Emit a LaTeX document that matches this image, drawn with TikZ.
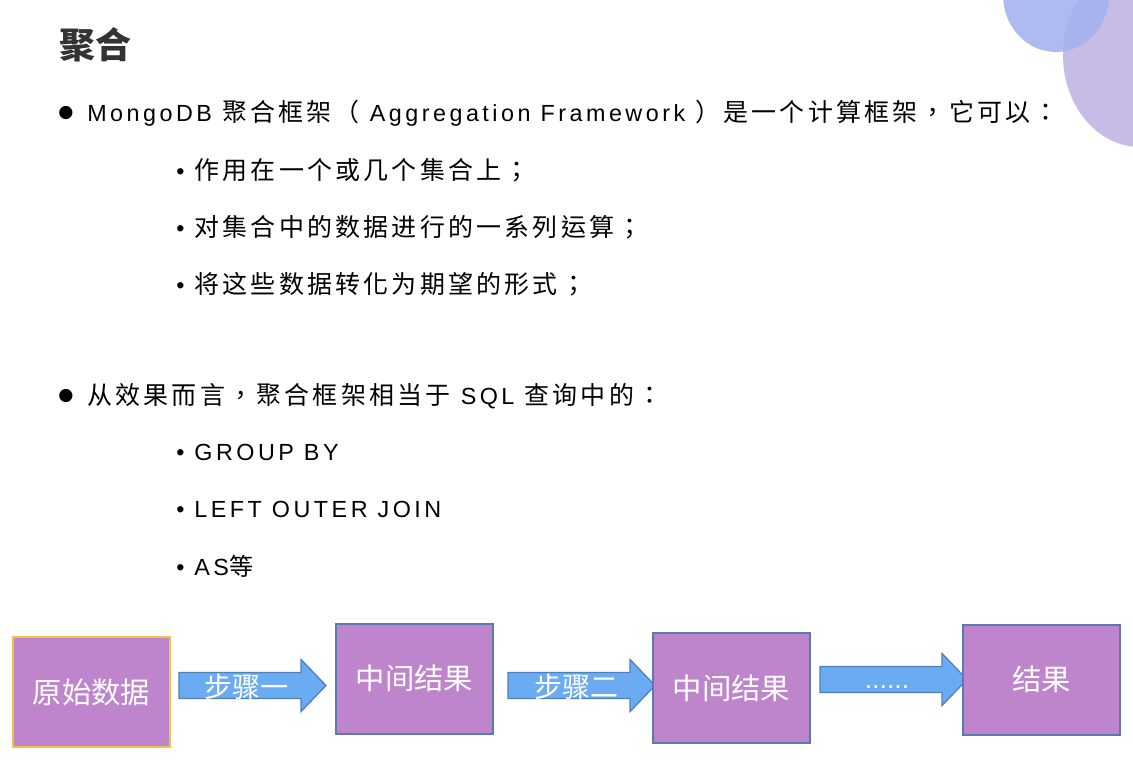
\documentclass[tikz,border=0pt]{standalone}
\usepackage{fontspec}
\setmainfont{Liberation Sans}[LetterSpace=15]
\newfontfamily\cjk{Noto Sans CJK TC}[LetterSpace=13, Scale=1.07]
\newfontfamily\cjkplain{Noto Sans CJK SC}
\newfontfamily\symb{DejaVu Sans}
\newlength\pix
\setlength\pix{0.75pt}
\definecolor{boxfill}{HTML}{BF85CC}
\definecolor{boxline}{HTML}{5B7BAE}
\definecolor{goldline}{HTML}{EFC14F}
\definecolor{arrowfill}{HTML}{6AABF2}
\definecolor{arrowline}{HTML}{4E80C0}
\definecolor{titlegray}{HTML}{333333}
\definecolor{periwinkle}{HTML}{A2B2EE}
\definecolor{lavender}{HTML}{C7BCE8}
\tikzset{
  box/.style={draw=boxline, fill=boxfill, line width=2\pix, minimum width=157\pix,
    minimum height=110\pix, text=white, font=\cjkplain\fontsize{22}{26}\selectfont},
  arrowshape/.style={draw=arrowline, fill=arrowfill, line width=1.3\pix},
  steplabel/.style={text=white, inner sep=0pt, font=\cjkplain\fontsize{21}{25}\selectfont},
  textline/.style={anchor=west, inner sep=0pt, font=\fontsize{17.5}{20}\selectfont},
  dot/.style={inner sep=0pt, font=\symb\fontsize{13}{16}\selectfont},
}
% block arrow: #1 left x, #2 centre y, #3 name
\newcommand{\steparrow}[3]{%
  \draw[arrowshape] (#1,#2-13) -- ++(122,0) -- ++(0,-13) -- ++(25,26)
    -- ++(-25,26) -- ++(0,-13) -- ++(-122,0) -- cycle;
  \coordinate (#3) at (#1+73.5,#2);
}
\begin{document}
\begin{tikzpicture}[x=0.75pt,y=-0.75pt]
  \useasboundingbox (0,0) rectangle (1133,775);
  \clip (0,0) rectangle (1133,775);
  \fill[white] (0,0) rectangle (1133,775);
  % corner decoration
  \fill[lavender] (1140,55) ellipse [x radius=77, y radius=92];
  \fill[periwinkle, opacity=0.88] (1056,-5) ellipse [x radius=53, y radius=57];
  % title
  \node[anchor=west, inner sep=0pt, text=titlegray, font=\cjkplain\bfseries\fontsize{27}{31}\selectfont] (title) at (59,45) {聚合};
  % first list
  \node[dot] (b1) at (66,113) {●};
  \node[textline] (t1) at (87,113) {MongoDB {\cjk 聚合框架（} Aggregation Framework {\cjk ）是一个计算框架，它可以：}};
  \node[textline] (t11) at (176,170) {• {\cjk 作用在一个或几个集合上；}};
  \node[textline] (t12) at (176,227) {• {\cjk 对集合中的数据进行的一系列运算；}};
  \node[textline] (t13) at (176,284) {• {\cjk 将这些数据转化为期望的形式；}};
  % second list
  \node[dot] (b2) at (66,396) {●};
  \node[textline] (t2) at (87,396) {{\cjk 从效果而言，聚合框架相当于} SQL {\cjk 查询中的：}};
  \node[textline] (t21) at (176,452) {• GROUP BY};
  \node[textline] (t22) at (176,509) {• LEFT OUTER JOIN};
  \node[textline] (t23) at (176,566) {• AS{\cjkplain\fontsize{18}{20}\selectfont 等}};
  % pipeline
  \steparrow{179}{685.5}{a1}
  \steparrow{508}{685.5}{a2}
  \steparrow{820}{679.5}{a3}
  \node[box, draw=goldline] (raw) at (91.5,692) {原始数据};
  \node[box] (mid1) at (414.5,678.5) {中间结果};
  \node[box] (mid2) at (731.5,688) {中间结果};
  \node[box] (res) at (1041.5,679.5) {结果};
  \node[steplabel] (s1) at (246.5,687) {步骤一};
  \node[steplabel] (s2) at (576.5,687) {步骤二};
  \node[anchor=base, text=white, font=\fontsize{20}{24}\selectfont\addfontfeature{LetterSpace=0}] (s3) at (887,688) {......};
\end{tikzpicture}
\end{document}
